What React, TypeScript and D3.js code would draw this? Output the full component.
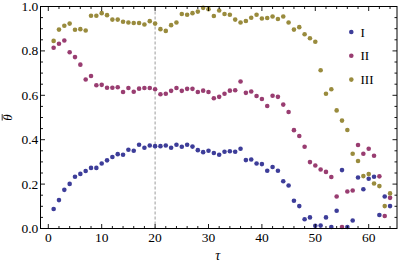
import React from "react";
import * as d3 from "d3";

const tau = [1,2,3,4,5,6,7,8,9,10,11,12,13,14,15,16,17,18,19,20,21,22,23,24,25,26,27,28,29,30,31,32,33,34,35,36,37,38,39,40,41,42,43,44,45,46,47,48,49,50,51,52,53,54,55,56,57,58,59,60,61,62,63,64];

const seriesI = [0.088,0.128,0.174,0.201,0.233,0.246,0.259,0.273,0.273,0.293,0.307,0.322,0.335,0.332,0.355,0.350,0.377,0.364,0.374,0.371,0.371,0.374,0.364,0.377,0.368,0.377,0.369,0.353,0.344,0.350,0.340,0.332,0.346,0.348,0.346,0.359,0.308,0.311,0.293,0.290,0.260,0.277,0.260,0.213,0.194,0.125,0.101,0.042,0.050,0.012,0.013,0.050,0.007,0.080,0.263,0.007,0.036,0.230,0.177,0.224,0.233,0.061,0.144,0.101];

const seriesII = [0.814,0.832,0.847,0.794,0.772,0.738,0.671,0.687,0.645,0.647,0.634,0.634,0.636,0.615,0.633,0.616,0.630,0.633,0.633,0.627,0.605,0.607,0.620,0.633,0.620,0.629,0.629,0.615,0.621,0.615,0.587,0.593,0.607,0.621,0.623,0.662,0.611,0.617,0.597,0.583,0.552,0.598,0.593,0.558,0.525,0.443,0.417,0.368,0.299,0.284,0.266,0.255,0.232,0.144,0.007,0.167,0.171,0.376,0.337,0.359,0.328,0.235,0.056,0.138];

const seriesIII = [0.845,0.896,0.913,0.923,0.895,0.898,0.892,0.958,0.958,0.970,0.961,0.941,0.941,0.931,0.928,0.926,0.926,0.919,0.934,0.923,0.898,0.890,0.916,0.928,0.966,0.963,0.970,0.977,0.994,0.988,0.957,0.982,0.966,0.963,0.941,0.928,0.935,0.949,0.963,0.946,0.948,0.955,0.944,0.955,0.928,0.896,0.907,0.875,0.857,0.841,0.713,0.607,0.627,0.532,0.486,0.444,0.337,0.304,0.236,0.245,0.203,0.191,0.101,0.158];

const seriesNames = ["I", "II", "III"];
const seriesColors = ["#3d3d99", "#993d71", "#998b3d"];
const xMajorTicks = [0, 10, 20, 30, 40, 50, 60];
const yMajorTicks = [0, 0.2, 0.4, 0.6, 0.8, 1.0];
const markerTau = 20;

const W = 399, H = 264;
const L = 40.5, R = 397, T = 6.5, B = 228.5;

export default function App() {
  const x0 = 48.3, x60 = 368.7;
  const pxPer = (x60 - x0) / 60;
  const x = d3.scaleLinear().domain([(L - x0) / pxPer, (R - x0) / pxPer]).range([L, R]);
  const y = d3.scaleLinear().domain([0, 1]).range([B, T]);

  const xMinor = d3.range(0, 66, 2).filter((v) => v % 10 !== 0 && x(v) > L && x(v) < R);
  const yMinor = d3.range(0, 1.0001, 0.05).filter((v) => Math.abs(v * 5 - Math.round(v * 5)) > 1e-6);
  const all = [seriesI, seriesII, seriesIII];
  const font = "'Liberation Serif', 'Times New Roman', serif";
  const maj = 4.5, min = 2.5;

  return (
    <svg width={W} height={H} style={{ position: "absolute", left: 0, top: 0, background: "#fff" }}>
      <line x1={x(markerTau)} x2={x(markerTau)} y1={T} y2={B} stroke="#9a9a9a" strokeWidth={1} strokeDasharray="3,2" />
      {all.map((s, si) => (
        <g key={si} fill={seriesColors[si]}>
          {s.map((v, i) => (
            <circle key={i} cx={x(tau[i])} cy={y(v)} r={2.3} />
          ))}
        </g>
      ))}
      <rect x={L} y={T} width={R - L} height={B - T} fill="none" stroke="#000" strokeWidth={1} />
      <g stroke="#000" strokeWidth={0.9}>
        {xMajorTicks.map((t) => (
          <g key={"xm" + t}>
            <line x1={x(t)} x2={x(t)} y1={B} y2={B - maj} />
            <line x1={x(t)} x2={x(t)} y1={T} y2={T + maj} />
          </g>
        ))}
        {xMinor.map((t) => (
          <g key={"xn" + t}>
            <line x1={x(t)} x2={x(t)} y1={B} y2={B - min} />
            <line x1={x(t)} x2={x(t)} y1={T} y2={T + min} />
          </g>
        ))}
        {yMajorTicks.map((t) => (
          <g key={"ym" + t}>
            <line x1={L} x2={L + maj} y1={y(t)} y2={y(t)} />
            <line x1={R} x2={R - maj} y1={y(t)} y2={y(t)} />
          </g>
        ))}
        {yMinor.map((t) => (
          <g key={"yn" + t}>
            <line x1={L} x2={L + min} y1={y(t)} y2={y(t)} />
            <line x1={R} x2={R - min} y1={y(t)} y2={y(t)} />
          </g>
        ))}
      </g>
      <g fontFamily={font} fontSize={13.5} fill="#000">
        {xMajorTicks.map((t) => (
          <text key={"xl" + t} x={x(t)} y={241.5} textAnchor="middle">{String(t)}</text>
        ))}
        {yMajorTicks.map((t) => (
          <text key={"yl" + t} x={38.3} y={y(t) + 4.5} textAnchor="end">{t.toFixed(1)}</text>
        ))}
        <text x={(L + R) / 2 - 1} y={260} textAnchor="middle" fontStyle="italic" fontSize={14}>τ</text>
        <g transform={`translate(12,${(T + B) / 2}) rotate(-90)`}>
          <text x={0} y={0} textAnchor="middle" fontStyle="italic" fontSize={13}>θ</text>
          <line x1={-3} x2={3.4} y1={-9.8} y2={-9.8} stroke="#000" strokeWidth={0.8} />
        </g>
        {seriesNames.map((n, i) => (
          <g key={n}>
            <circle cx={351.3} cy={32 + i * 23.8} r={2.3} fill={seriesColors[i]} />
            <text x={360.5} y={32 + i * 23.8 + 4.5} fontSize={13}>{n}</text>
          </g>
        ))}
      </g>
    </svg>
  );
}
